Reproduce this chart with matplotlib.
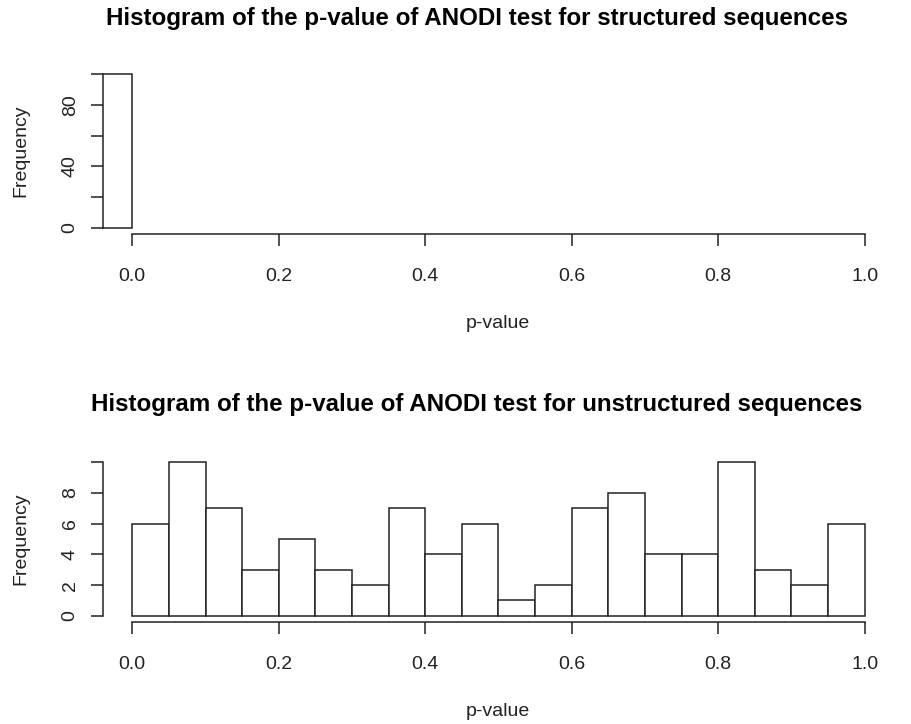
import matplotlib
matplotlib.use("Agg")
import matplotlib.pyplot as plt
import numpy as np

plt.rcParams['font.family'] = ['Liberation Sans', 'DejaVu Sans']

# Structured sequences: all 100 p-values fall in the first bin
structured_edges = [-0.05, 0.0]
structured_counts = [100]

# Unstructured sequences: bins of width 0.05 on [0, 1]
unstructured_edges = [0.0, 0.05, 0.10, 0.15, 0.20, 0.25, 0.30, 0.35, 0.40, 0.45, 0.50,
                      0.55, 0.60, 0.65, 0.70, 0.75, 0.80, 0.85, 0.90, 0.95, 1.0]
unstructured_counts = [6, 10, 7, 3, 5, 3, 2, 7, 4, 6, 1, 2, 7, 8, 4, 4, 10, 3, 2, 6]

x_ticks = [0.0, 0.2, 0.4, 0.6, 0.8, 1.0]
top_y_ticks = [0, 20, 40, 60, 80, 100]
top_y_labels = ['0', '', '40', '', '80', '']
bot_y_ticks = [0, 2, 4, 6, 8, 10]
bot_y_labels = ['0', '2', '4', '6', '8', '']

titles = ["Histogram of the p-value of ANODI test for structured sequences",
          "Histogram of the p-value of ANODI test for unstructured sequences"]

W, H = 912, 724
fig = plt.figure(figsize=(W / 100, H / 100), dpi=100)
INK = '#222222'


def axes_px(left, top, right, bottom):
    return fig.add_axes([left / W, 1 - bottom / H, (right - left) / W, (bottom - top) / H])


def text_px(x, y, s, **kw):
    fig.text(x / W, 1 - y / H, s, ha='center', va='center', **kw)


def draw_hist(ax, edges, counts, yticks, ylabels):
    edges = np.asarray(edges)
    ax.bar(edges[:-1], counts, width=np.diff(edges), align='edge',
           facecolor='white', edgecolor=INK, linewidth=1.1)
    ymax = max(yticks[-1], max(counts))
    ax.set_xlim(-0.04, 1.04)
    ax.set_ylim(-0.04 * ymax, 1.04 * ymax)
    for s in ('top', 'right'):
        ax.spines[s].set_visible(False)
    ax.spines['bottom'].set_bounds(0, 1)
    ax.spines['left'].set_bounds(yticks[0], yticks[-1])
    for s in ('bottom', 'left'):
        ax.spines[s].set_color(INK)
        ax.spines[s].set_linewidth(1.1)
    ax.set_xticks(x_ticks)
    ax.set_xticklabels([f"{v:.1f}" for v in x_ticks])
    ax.set_yticks(yticks)
    ax.set_yticklabels(ylabels, rotation=90, va='center')
    ax.tick_params(direction='out', length=8.5, width=1.1, color=INK,
                   labelsize=14, labelcolor=INK)
    ax.tick_params(axis='x', pad=16)
    ax.tick_params(axis='y', pad=9)


panels = [
    (axes_px(103, 68, 894, 234), structured_edges, structured_counts, top_y_ticks, top_y_labels, 18, 323),
    (axes_px(103, 456, 894, 622), unstructured_edges, unstructured_counts, bot_y_ticks, bot_y_labels, 405, 712),
]

for (ax, edges, counts, yt, yl, ty, xly), title in zip(panels, titles):
    draw_hist(ax, edges, counts, yt, yl)
    pos = ax.get_position()
    yc = (1 - (pos.y0 + pos.height / 2)) * H
    text_px(477, ty, title, fontsize=17.4, fontweight='bold', color='black')
    text_px(498, xly, 'p-value', fontsize=14, color=INK)
    text_px(21, yc, 'Frequency', fontsize=14, color=INK, rotation=90)

fig.savefig('out.png', dpi=100)
